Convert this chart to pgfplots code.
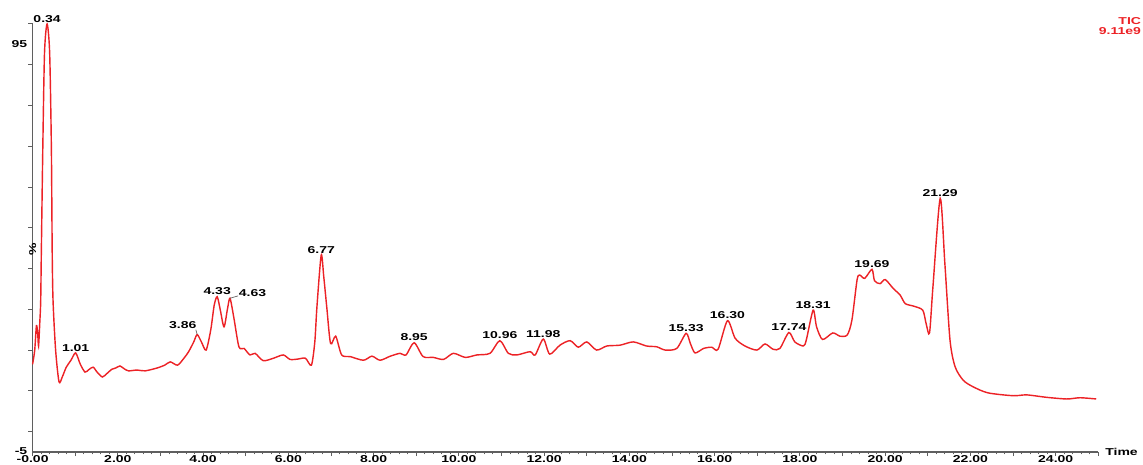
\documentclass[border=0pt]{standalone}
\usepackage{fontspec}
\setmainfont{Liberation Sans}[FakeStretch=1.4]
\usepackage{pgfplots}
\usepackage{pgfplotstable}
\pgfplotsset{compat=1.18}
\definecolor{trace}{RGB}{236,34,38}
\definecolor{axgray}{RGB}{95,95,95}
\newcommand\lf{\bfseries\fontsize{6}{6.5}\selectfont}
\pgfplotstableread{
t v
0.00 16.5
0.05 20
0.09 26
0.12 24
0.14 21
0.17 27
0.19 32
0.205 44
0.24 70
0.28 93
0.34 100
0.40 93
0.44 70
0.46 44
0.48 32
0.54 20
0.62 12.2
0.70 13.5
0.79 15.8
0.90 17.5
1.01 19.3
1.12 16.5
1.23 14.6
1.32 15.2
1.42 15.8
1.52 14.5
1.64 13.4
1.75 14.3
1.86 15.3
1.95 15.6
2.05 16.1
2.15 15.4
2.25 14.9
2.45 15.1
2.64 14.9
2.92 15.6
3.10 16.3
3.23 17.1
3.40 16.3
3.55 18
3.66 19.6
3.78 22
3.86 23.8
3.96 22
4.07 20
4.18 25
4.26 31
4.33 33.1
4.40 30
4.49 25.7
4.57 30
4.63 32.7
4.72 28
4.84 20.8
4.96 20.4
5.10 18.8
5.22 19.2
5.41 17.4
5.65 18
5.88 18.8
6.04 17.7
6.23 17.8
6.40 18
6.54 16.3
6.62 22
6.67 30.6
6.77 43.3
6.83 38
6.90 30.6
6.99 21.6
7.11 23.4
7.25 18.8
7.45 18.4
7.76 17.5
7.96 18.5
8.15 17.5
8.39 18.5
8.62 19.2
8.76 18.8
8.95 21.8
9.16 18.4
9.40 18.2
9.64 17.7
9.87 19.2
10.15 18.2
10.42 18.8
10.73 19.2
10.96 22.3
11.16 19.2
11.36 18.8
11.67 19.6
11.79 18.8
11.98 22.7
12.13 19
12.37 21.2
12.61 22.3
12.80 20.7
13.00 22
13.23 20
13.47 21
13.78 21.2
14.09 22
14.40 21
14.64 20.8
14.84 20
15.11 20.4
15.33 24.1
15.43 21.6
15.54 19.3
15.74 20.4
15.93 20.7
16.08 20.2
16.30 27.2
16.48 22.9
16.71 21
16.99 20
17.18 21.5
17.37 20.2
17.53 20.4
17.74 24.3
17.88 22
18.08 21
18.15 22.5
18.31 29.8
18.39 25.7
18.53 22.6
18.77 24.2
18.94 23.4
19.11 23.7
19.22 27.4
19.34 37.2
19.40 38.4
19.52 37.6
19.69 39.8
19.75 37
19.88 36.3
20.00 37.3
20.19 35.1
20.35 33.5
20.47 31.4
20.66 30.8
20.88 29.8
20.96 26.5
21.04 24.2
21.12 35.5
21.29 57.2
21.40 41.2
21.52 22.5
21.64 15.9
21.83 12.6
22.06 11
22.41 9.5
23.00 8.8
23.32 9
23.79 8.4
24.26 8
24.57 8.3
24.95 8
}\tic
\begin{document}
\begin{tikzpicture}
\useasboundingbox (-19.56pt,-7.8pt) rectangle (666.3pt,271.2pt);
\begin{axis}[
  at={(0,0)}, anchor=south west,
  scale only axis, width=639.5pt, height=256.8pt,
  xmin=0, xmax=25, ymin=-5, ymax=100,
  clip=false,
  axis x line=bottom, axis y line=left,
  axis line style={axgray, line width=0.9pt, -},
  tick style={axgray, line width=0.6pt},
  tick align=outside,
  xtick={0,1,...,25},
  xticklabels={-0.00,{},2.00,{},4.00,{},6.00,{},8.00,{},10.00,{},12.00,{},14.00,{},16.00,{},18.00,{},20.00,{},22.00,{},24.00,{}},
  minor x tick num=4,
  major tick length=2.5pt, minor tick length=1.5pt,
  ytick={0,10,...,100}, yticklabels={},
  extra y ticks={-5,95}, extra y tick labels={\raisebox{1.6pt}{-5},95},
  extra y tick style={major tick length=0pt},
  tick label style={font=\lf, text=black},
  xticklabel style={inner sep=0pt, yshift=0.6pt},
  yticklabel style={inner sep=0pt, xshift=-3pt},
  /pgf/number format/assume math mode=true,
]
\addplot[trace, line width=0.85pt, smooth, tension=0.45] table[x=t,y=v] {\tic};
\node[font=\lf, anchor=south, inner sep=0.8pt] at (axis cs:0.34,100) {0.34};
\node[font=\lf, anchor=south, inner sep=0.8pt] at (axis cs:1.01,19.3) {1.01};
\draw[axgray, line width=0.4pt] (axis cs:3.86,23.8) -- (axis cs:3.83,25.0);
\node[font=\lf, anchor=south east, inner sep=0.8pt] at (axis cs:3.88,24.9) {3.86};
\node[font=\lf, anchor=south, inner sep=0.8pt] at (axis cs:4.33,33.1) {4.33};
\draw[axgray, line width=0.4pt] (axis cs:4.63,32.7) -- (axis cs:4.82,33.3);
\node[font=\lf, anchor=south west, inner sep=0.8pt] at (axis cs:4.80,32.6) {4.63};
\node[font=\lf, anchor=south, inner sep=0.8pt] at (axis cs:6.77,43.3) {6.77};
\node[font=\lf, anchor=south, inner sep=0.8pt] at (axis cs:8.95,21.8) {8.95};
\node[font=\lf, anchor=south, inner sep=0.8pt] at (axis cs:10.96,22.3) {10.96};
\node[font=\lf, anchor=south, inner sep=0.8pt] at (axis cs:11.98,22.7) {11.98};
\node[font=\lf, anchor=south, inner sep=0.8pt] at (axis cs:15.33,24.1) {15.33};
\node[font=\lf, anchor=south, inner sep=0.8pt] at (axis cs:16.30,27.2) {16.30};
\node[font=\lf, anchor=south, inner sep=0.8pt] at (axis cs:17.74,24.3) {17.74};
\node[font=\lf, anchor=south, inner sep=0.8pt] at (axis cs:18.31,29.8) {18.31};
\node[font=\lf, anchor=south, inner sep=0.8pt] at (axis cs:19.69,39.8) {19.69};
\node[font=\lf, anchor=south, inner sep=0.8pt] at (axis cs:21.29,57.2) {21.29};
\node[font=\lf, anchor=west, inner sep=0pt, xshift=4pt] at (axis cs:25,-5) {Time};
\node[font=\lf, rotate=90, inner sep=0pt] at (axis description cs:0,0.5) [xshift=-7pt] {\%};
\node[font=\lf, text=trace, align=right, anchor=east, inner sep=0pt] at (axis cs:25,99.5) [xshift=25.8pt] {TIC\\9.11e9};
\end{axis}
\end{tikzpicture}
\end{document}
